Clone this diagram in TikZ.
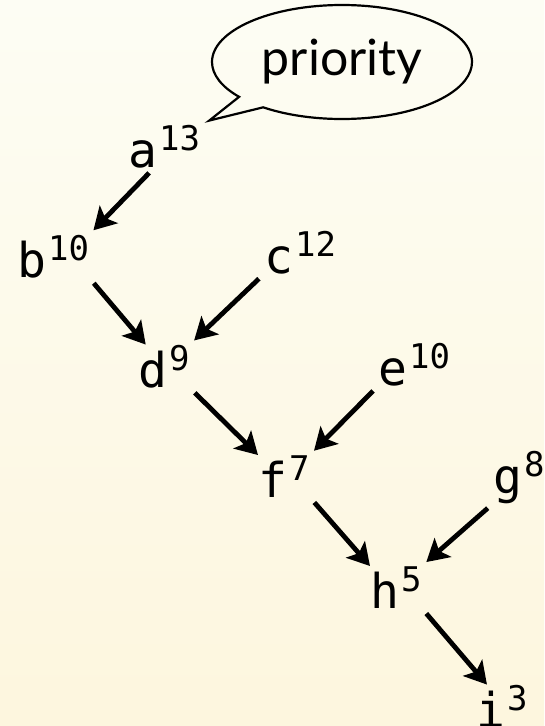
\documentclass[tikz,border=0pt]{standalone}
\usepackage{fontspec}
\setmainfont{DejaVu Sans Mono}
\newfontfamily\notefont{Lato}
\usetikzlibrary{shapes.callouts, arrows.meta}

\definecolor{bgtop}{RGB}{253,253,244}
\definecolor{bgbottom}{RGB}{253,246,222}

% letter with its priority as superscript
\newcommand{\prio}[2]{#1\kern2pt\raisebox{17pt}{\fontsize{34}{34}\selectfont #2}}

\begin{document}
\begin{tikzpicture}[x=1pt, y=-1pt,
  vertex/.style={anchor=base west, inner sep=0pt, font=\fontsize{48}{48}\selectfont},
  edge/.style={-{Stealth[length=22pt, width=25pt, inset=5pt]}, line width=4.8pt,
    shorten <=7pt, shorten >=0pt},
  leftedge/.style={edge, shorten >=6pt}]
  % Background
  \shade[top color=bgtop, bottom color=bgbottom] (0,0) rectangle (544,726);
  \useasboundingbox (0,0) rectangle (544,726);

  % Vertices
  \node[vertex] (a) at (128, 167) {\prio{a}{13}};
  \node[vertex] (b) at (17, 277) {\prio{b}{10}};
  \node[vertex] (c) at (264, 273) {\prio{c}{12}};
  \node[vertex] (d) at (138, 387) {\prio{d}{9}};
  \node[vertex] (e) at (378, 385) {\prio{e}{10}};
  \node[vertex] (f) at (258, 497) {\prio{f}{7}};
  \node[vertex] (g) at (493, 493) {\prio{g}{8}};
  \node[vertex] (h) at (370, 608) {\prio{h}{5}};
  \node[vertex] (i) at (476, 727) {\prio{i}{3}};

  % Edges
  \draw[leftedge] (a.-115) -- (b.north east);
  \draw[edge] (b.south east) -- (d.130);
  \draw[leftedge] (c.south west) -- (d.north east);
  \draw[edge] (d.south east) -- (f.north west);
  \draw[leftedge] (e.south west) -- (f.north east);
  \draw[edge] (f.south east) -- (h.north west);
  \draw[leftedge] (g.south west) -- (h.north east);
  \draw[edge] (h.south east) -- (i.125);

  % Callout
  \node[ellipse callout, draw, line width=2.2pt, minimum width=260pt, minimum height=114pt,
    callout absolute pointer={([xshift=9pt, yshift=4pt]a.north east)},
    font=\notefont\fontsize{50}{50}\selectfont] (note) at (342, 62) {priority};
\end{tikzpicture}
\end{document}
